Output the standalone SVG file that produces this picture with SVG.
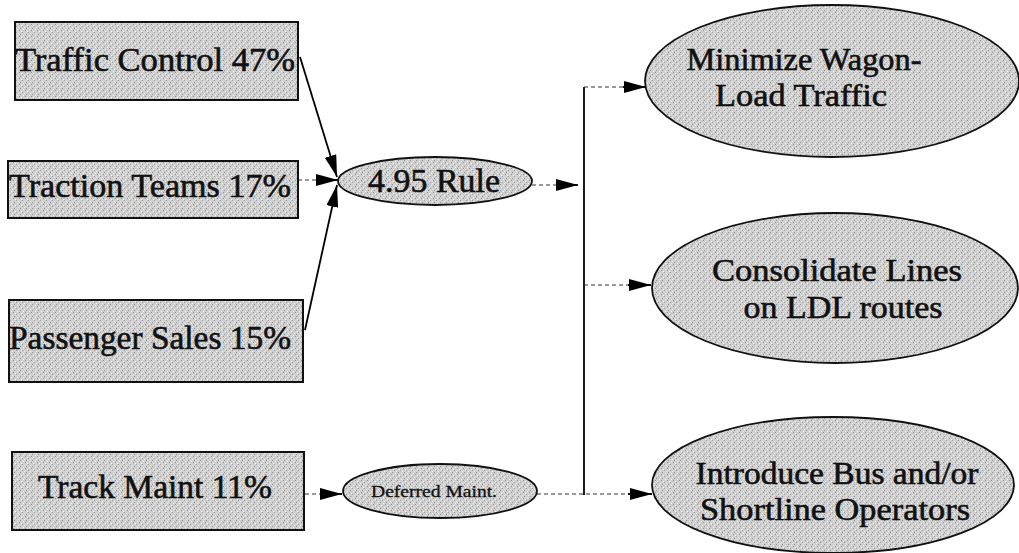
<svg xmlns="http://www.w3.org/2000/svg" width="1019" height="553" viewBox="0 0 1019 553">
  <defs>
    <pattern id="stip" width="6" height="6" patternUnits="userSpaceOnUse">
      <rect width="6" height="6" fill="#cfcfcf"/>
      <rect x="1" y="0" width="1" height="1" fill="#949494"/>
      <rect x="4" y="2" width="1" height="1" fill="#a4a4a4"/>
      <rect x="2" y="4" width="1" height="1" fill="#949494"/>
      <rect x="5" y="5" width="1" height="1" fill="#f0f0f0"/>
      <rect x="0" y="3" width="1" height="1" fill="#f0f0f0"/>
      <rect x="3" y="1" width="1" height="1" fill="#ffffff"/>
    </pattern>
    <marker id="arr" markerUnits="userSpaceOnUse" markerWidth="22" markerHeight="12" refX="22" refY="6" orient="auto">
      <path d="M0,0 L22,6 L0,12 Z" fill="#000"/>
    </marker>
  </defs>
  <style>
    .box { fill: url(#stip); stroke: #111; stroke-width: 2; }
    .ell { fill: url(#stip); stroke: #111; stroke-width: 1.8; }
    .t { font-family: "Liberation Serif", "Times New Roman", serif; font-size: 34px; fill: #111; stroke: #111; stroke-width: 0.6; text-anchor: middle; }
    .t2 { font-family: "Liberation Serif", "Times New Roman", serif; font-size: 32px; fill: #111; stroke: #111; stroke-width: 0.6; text-anchor: middle; }
    .ts { font-family: "Liberation Serif", "Times New Roman", serif; font-size: 16px; fill: #111; stroke: #111; stroke-width: 0.3; text-anchor: middle; }
    .solid { fill: none; stroke: #000; stroke-width: 1.8; }
    .dot { fill: none; stroke: #333; stroke-width: 1.2; stroke-dasharray: 4 3; }
  </style>
  <rect width="1019" height="553" fill="#ffffff"/>

  <g id="connectors">
    <line class="solid" x1="300" y1="57" x2="337" y2="177" marker-end="url(#arr)"/>
    <line class="dot" x1="298" y1="180" x2="318" y2="180"/>
    <line class="solid" x1="316" y1="180" x2="338" y2="180" marker-end="url(#arr)"/>
    <line class="solid" x1="305" y1="330" x2="337" y2="185" marker-end="url(#arr)"/>
    <line class="dot" x1="532" y1="185" x2="558" y2="185"/>
    <line class="solid" x1="556" y1="185" x2="578" y2="185" marker-end="url(#arr)"/>
    <line class="solid" x1="584" y1="87" x2="584" y2="495"/>
    <line class="dot" x1="584" y1="87" x2="625" y2="87"/>
    <line class="solid" x1="623" y1="87" x2="646" y2="87" marker-end="url(#arr)"/>
    <line class="dot" x1="584" y1="285" x2="630" y2="285"/>
    <line class="solid" x1="628" y1="285" x2="651" y2="285" marker-end="url(#arr)"/>
    <line class="dot" x1="305" y1="494" x2="322" y2="494"/>
    <line class="solid" x1="320" y1="494" x2="342" y2="494" marker-end="url(#arr)"/>
    <line class="dot" x1="537" y1="494" x2="630" y2="494"/>
    <line class="solid" x1="628" y1="494" x2="652" y2="494" marker-end="url(#arr)"/>
  </g>

  <g id="traffic-control">
    <rect class="box" x="15" y="22" width="283" height="78"/>
    <text class="t" x="155" y="71" textLength="280" lengthAdjust="spacingAndGlyphs">Traffic Control 47%</text>
  </g>
  <g id="traction-teams">
    <rect class="box" x="8" y="161" width="290" height="57"/>
    <text class="t" x="150" y="197" textLength="282" lengthAdjust="spacingAndGlyphs">Traction Teams 17%</text>
  </g>
  <g id="passenger-sales">
    <rect class="box" x="9" y="300" width="294" height="82"/>
    <text class="t" x="150" y="349" textLength="282" lengthAdjust="spacingAndGlyphs">Passenger Sales 15%</text>
  </g>
  <g id="track-maint">
    <rect class="box" x="12" y="452" width="292" height="78"/>
    <text class="t" x="155" y="498" textLength="234" lengthAdjust="spacingAndGlyphs">Track Maint 11%</text>
  </g>
  <g id="rule-495">
    <ellipse class="ell" cx="435" cy="181" rx="97" ry="24"/>
    <text class="t" x="434" y="192" textLength="132" lengthAdjust="spacingAndGlyphs">4.95 Rule</text>
  </g>
  <g id="deferred-maint">
    <ellipse class="ell" cx="440" cy="491" rx="97" ry="27"/>
    <text class="ts" x="434" y="497" textLength="126" lengthAdjust="spacingAndGlyphs">Deferred Maint.</text>
  </g>
  <g id="minimize">
    <ellipse class="ell" cx="832" cy="81" rx="187" ry="76"/>
    <text class="t2" x="804" y="70" textLength="235" lengthAdjust="spacingAndGlyphs">Minimize Wagon-</text>
    <text class="t2" x="801" y="106" textLength="172" lengthAdjust="spacingAndGlyphs">Load Traffic</text>
  </g>
  <g id="consolidate">
    <ellipse class="ell" cx="835" cy="288" rx="183" ry="75"/>
    <text class="t2" x="837" y="281" textLength="250" lengthAdjust="spacingAndGlyphs">Consolidate Lines</text>
    <text class="t2" x="843" y="318" textLength="199" lengthAdjust="spacingAndGlyphs">on LDL routes</text>
  </g>
  <g id="introduce">
    <ellipse class="ell" cx="833" cy="485" rx="181" ry="68"/>
    <text class="t2" x="837" y="484" textLength="283" lengthAdjust="spacingAndGlyphs">Introduce Bus and/or</text>
    <text class="t2" x="835" y="520" textLength="270" lengthAdjust="spacingAndGlyphs">Shortline Operators</text>
  </g>
</svg>
